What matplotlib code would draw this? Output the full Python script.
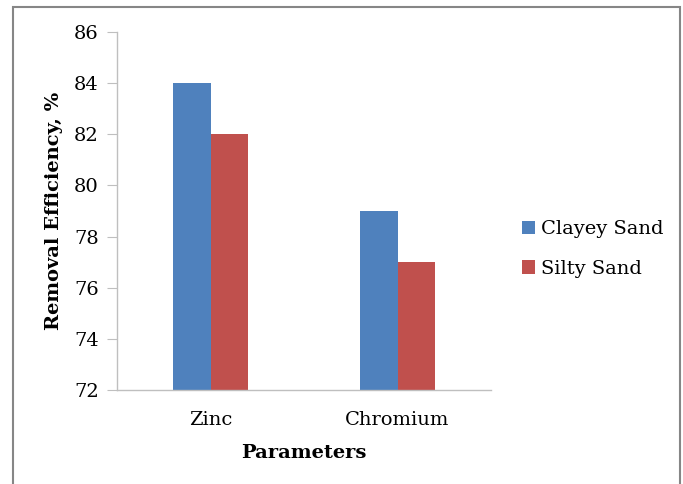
import matplotlib
matplotlib.use("Agg")
import matplotlib.pyplot as plt
import numpy as np
from matplotlib.patches import Rectangle

categories = ["Zinc", "Chromium"]
series_names = ["Clayey Sand", "Silty Sand"]
clayey = [84, 79]
silty = [82, 77]
yticks = [72, 74, 76, 78, 80, 82, 84, 86]
colors = ["#4F81BD", "#C0504D"]

plt.rcParams['font.family'] = ['DejaVu Serif']

W, H = 683, 484
fig = plt.figure(figsize=(W/100, H/100), dpi=100)
fig.patch.set_facecolor("white")

# outer border
fig.patches.append(Rectangle((13/W, -0.05), (680-13)/W, 1.05 - 7/H,
                             transform=fig.transFigure, fill=False,
                             edgecolor="#868686", linewidth=1.5))

ax = fig.add_axes([117/W, 1 - 390/H, (491-117)/W, (390-32)/H])
x = np.arange(len(categories))
bw = 0.203
for i, (vals, name) in enumerate(zip([clayey, silty], series_names)):
    ax.bar(x + (i - 0.5) * bw, vals, width=bw, color=colors[i], label=name)

ax.set_xlim(-0.5, 1.5)
ax.set_ylim(72, 86)
ax.set_yticks(yticks)
ax.set_xticks(x)
ax.set_xticklabels(categories)
for s in ["top", "right"]:
    ax.spines[s].set_visible(False)
for s in ["left", "bottom"]:
    ax.spines[s].set_color("#BFBFBF")
    ax.spines[s].set_linewidth(1.0)
ax.tick_params(axis="y", length=7, color="#BFBFBF", labelsize=14, pad=6)
ax.tick_params(axis="x", length=0, labelsize=14, pad=15)
ax.set_xlabel("Parameters", fontsize=14, fontweight="bold", labelpad=11)
ax.set_ylabel("Removal Efficiency, %", fontsize=14, fontweight="bold", labelpad=8)

leg = fig.legend(loc="center left", bbox_to_anchor=(504/W, 1 - 249/H),
                 frameon=False, fontsize=14, handlelength=0.7, handleheight=0.7,
                 handletextpad=0.3, labelspacing=1.1)

fig.savefig("out.png", dpi=100)
